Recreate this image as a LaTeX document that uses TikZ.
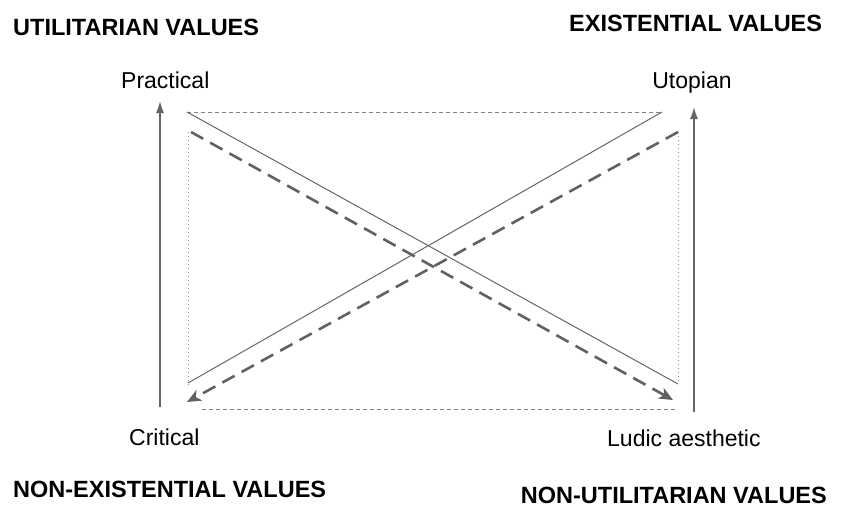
\documentclass[tikz,border=0pt]{standalone}
\usepackage{fontspec}
\setmainfont{Liberation Sans}
\usetikzlibrary{arrows.meta}
\begin{document}
\begin{tikzpicture}[x=1pt,y=-1pt,
  header/.style={font=\fontsize{23.5}{26}\selectfont\bfseries, inner sep=0pt, anchor=base west},
  lbl/.style={font=\fontsize{23}{26}\selectfont, inner sep=0pt},
  axis/.style={draw=black!60, line width=1.5pt, -{Latex[length=12pt,width=8pt]}},
  thin/.style={draw=black!60, line width=1pt},
  thickdash/.style={draw=black!62, line width=2.6pt, dash pattern=on 14pt off 8pt, -{Stealth[length=14pt,width=12pt,inset=4pt]}},
  shortdash/.style={draw=black!50, line width=1pt, dash pattern=on 4pt off 3pt},
  dots/.style={draw=black!45, line width=1pt, dash pattern=on 1pt off 3pt}]
\useasboundingbox (0,0) rectangle (854,507);
% headers
\node[header] (uv) at (13,35) {UTILITARIAN VALUES};
\node[header] (ev) at (569,31) {EXISTENTIAL VALUES};
\node[header] (nev) at (13,497) {NON-EXISTENTIAL VALUES};
\node[header, anchor=base east] (nuv) at (827,503) {NON-UTILITARIAN VALUES};
% labels
\node[lbl, anchor=base west] (prac) at (121,88) {Practical};
\node[lbl, anchor=base] (utop) at (692,88) {Utopian};
\node[lbl, anchor=base west] (crit) at (129,445) {Critical};
\node[lbl, anchor=base west] (ludic) at (607,446) {Ludic aesthetic};
% coordinates
\coordinate (laB) at (160,407);
\coordinate (laT) at (160,101);
\coordinate (raB) at (694,412);
\coordinate (raT) at (694,107);
\coordinate (tl) at (187,112);
\coordinate (tr) at (662,112);
\coordinate (br) at (678,384);
\coordinate (bl) at (188,383);
\coordinate (dl) at (191,132);
\coordinate (dlend) at (673,400);
\coordinate (dr) at (678,132);
\coordinate (drend) at (187,402);
\coordinate (vl1) at (188,132);
\coordinate (vl2) at (188,387);
\coordinate (vr1) at (678,132);
\coordinate (vr2) at (678,384);
\coordinate (hb1) at (202,409);
\coordinate (hb2) at (677,409);
% axes
\draw[axis] (laB) -- (laT);
\draw[axis] (raB) -- (raT);
% frame
\draw[shortdash] (tl) -- (tr);
\draw[shortdash] (hb1) -- (hb2);
\draw[dots] (vl1) -- (vl2);
\draw[dots] (vr1) -- (vr2);
% diagonals
\draw[thin] (tl) -- (br);
\draw[thin] (bl) -- (tr);
\draw[thickdash] (dl) -- (dlend);
\draw[thickdash] (dr) -- (drend);
\end{tikzpicture}
\end{document}
